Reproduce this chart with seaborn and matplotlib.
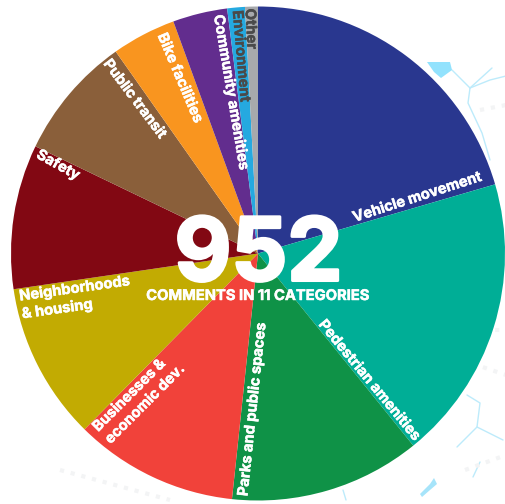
import numpy as np
import matplotlib
matplotlib.use("Agg")
import matplotlib.pyplot as plt
import matplotlib.patheffects as pe
import seaborn as sns

# Comment tallies by category, clockwise from twelve o'clock
categories = ["Vehicle movement", "Pedestrian amenities", "Parks and public spaces",
              "Businesses &\neconomic dev.", "Neighborhoods\n& housing", "Safety",
              "Public transit", "Bike facilities", "Community amenities",
              "Environment", "Other"]
counts = [195, 178, 119, 102, 98, 90, 77, 40, 34, 11, 8]
palette_hex = ["#29378F", "#00AE96", "#0F9247", "#F1423A", "#C2AB02", "#820813",
               "#8A5F3A", "#F9951F", "#622D8E", "#25A9E0", "#A7A9AC"]
total_label = "952"
subtitle = "COMMENTS IN 11 CATEGORIES"

sns.set_theme(style="white")
plt.rcParams["font.family"] = ["Inter", "Open Sans", "DejaVu Sans"]

W, H = 506, 504
cx, cy, R = 258, H - 253.5, 247
fig = plt.figure(figsize=(W / 100, H / 100), dpi=100, facecolor="white")
ax = fig.add_axes([0, 0, 1, 1])


def py(y):
    return H - y


# Pale street-map backdrop behind the pie
water = "#BDEBFB"
streams = [
    ([452, 470, 492], [70, 88, 68]),
    ([470, 468, 482, 490], [88, 103, 133, 160]),
    ([470, 490, 506], [88, 80, 76]),
    ([467, 480, 477, 457], [395, 403, 427, 447]),
    ([477, 503], [427, 440]),
    ([480, 473], [462, 477]),
    ([343, 346], [490, 500]),
]
for xs, ys in streams:
    ax.plot(xs, [py(v) for v in ys], color=water, lw=1.0, zorder=0)
ax.fill([427, 450, 452, 441, 434], [py(v) for v in [62, 62, 70, 78, 72]],
        color="#92E2FD", lw=0, zorder=0)
ax.fill([420, 430, 434, 437, 430, 422], [py(v) for v in [494, 484, 478, 484, 490, 497]],
        color="#A6E4FA", lw=0, zorder=0)
for x0, y0, x1, y1 in [(462, 330, 506, 330), (462, 360, 506, 375), (480, 110, 506, 105),
                       (60, 470, 170, 500), (465, 470, 506, 455)]:
    ax.plot([x0, x1], [py(y0), py(y1)], color="#F3F4F5", lw=3, ls=":", zorder=0)

wedges, _ = ax.pie(counts, colors=sns.color_palette(palette_hex), startangle=90,
                   counterclock=False, center=(cx, cy), radius=R, frame=True,
                   wedgeprops=dict(linewidth=0))
ax.set_xlim(0, W)
ax.set_ylim(0, H)
ax.axis("off")

dark = "#4A4A4A"
# Clockwise bearing and radius of each label anchor, with its text rotation
placements = [
    (0, 71.0, 236, 18, "right", "white"),
    (1, 139.3, 244, -50.5, "right", "white"),
    (2, 183.5, 243, 84, "left", "white"),
    (3, 220.7, 240, 45, "left", "white"),
    (4, 257.7, 243, 8, "left", "white"),
    (5, 294.4, 242, -29, "left", "white"),
    (6, 321.7, 245, -53, "left", "white"),
    (7, 336.2, 240, -67, "left", "white"),
    (8, 350.5, 242, -80.5, "left", "white"),
    (9, 355.0, 244, -85, "left", dark),
    (10, 358.0, 245, -87, "left", dark),
]
for idx, bearing, radius, rot, ha, col in placements:
    t = np.deg2rad(bearing)
    x = cx + radius * np.sin(t)
    y = cy + radius * np.cos(t)
    ax.text(x, y, categories[idx], rotation=rot, rotation_mode="anchor", ha=ha, va="center",
            color=col, fontsize=10.6, fontweight="bold", linespacing=1.3, zorder=5,
            path_effects=[pe.withStroke(linewidth=0.35, foreground=col)])

ax.text(258.5, py(258), total_label, color="white", fontsize=63, fontweight="bold",
        ha="center", va="center", zorder=6,
        path_effects=[pe.withStroke(linewidth=2.2, foreground="white")])
ax.text(257.5, py(296), subtitle, color="white", fontsize=10.6, fontweight="bold",
        ha="center", va="center", zorder=6,
        path_effects=[pe.withStroke(linewidth=0.35, foreground="white")])

fig.savefig("out.png", dpi=100, facecolor="white")
